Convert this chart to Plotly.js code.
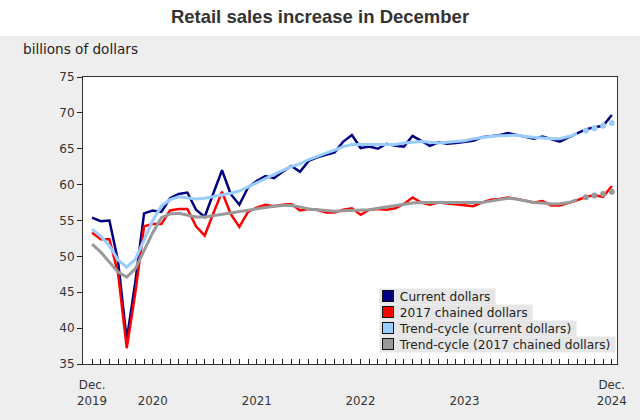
<!DOCTYPE html>
<html>
<head>
<meta charset="utf-8">
<script src="https://cdn.plot.ly/plotly-3.0.1.min.js"></script>
<style>html,body{margin:0;padding:0;background:#eeeeee;}#chart{width:640px;height:420px;}</style>
</head>
<body>
<div id="chart"></div>
<script>
// Months, Dec 2019 .. Dec 2024
const months = ['2019-12',
 '2020-01','2020-02','2020-03','2020-04','2020-05','2020-06','2020-07','2020-08','2020-09','2020-10','2020-11','2020-12',
 '2021-01','2021-02','2021-03','2021-04','2021-05','2021-06','2021-07','2021-08','2021-09','2021-10','2021-11','2021-12',
 '2022-01','2022-02','2022-03','2022-04','2022-05','2022-06','2022-07','2022-08','2022-09','2022-10','2022-11','2022-12',
 '2023-01','2023-02','2023-03','2023-04','2023-05','2023-06','2023-07','2023-08','2023-09','2023-10','2023-11','2023-12',
 '2024-01','2024-02','2024-03','2024-04','2024-05','2024-06','2024-07','2024-08','2024-09','2024-10','2024-11','2024-12'];

const currentDollars = [55.4,
 54.9,55.0,49.3,38.4,46.5,56.0,56.4,56.2,58.1,58.7,58.9,56.5,
 55.5,58.8,62.0,58.7,57.2,59.6,60.5,61.2,60.9,61.8,62.6,61.8,
 63.3,63.8,64.2,64.5,66.0,66.9,65.1,65.3,65.0,65.7,65.4,65.3,
 66.8,66.1,65.4,65.9,65.7,65.8,65.9,66.1,66.6,66.7,66.9,67.2,
 66.9,66.7,66.4,66.7,66.3,66.0,66.6,67.1,67.7,68.0,68.2,69.7];

const chainedDollars = [53.3,
 52.4,52.4,47.6,37.2,45.0,54.2,54.5,54.5,56.4,56.6,56.6,54.2,
 52.9,56.0,59.0,55.9,54.1,56.2,56.8,57.2,57.0,57.2,57.3,56.4,
 56.6,56.5,56.1,56.1,56.5,56.7,55.8,56.5,56.6,56.5,56.7,57.3,
 58.2,57.5,57.2,57.5,57.4,57.3,57.1,57.0,57.5,57.9,58.0,58.2,
 58.0,57.8,57.5,57.7,57.1,57.1,57.4,57.8,58.3,58.5,58.3,59.8];

const trendCurrent = [53.8,
 52.8,51.5,49.5,48.5,49.6,52.3,55.0,57.0,57.9,58.3,58.2,58.0,
 58.1,58.3,58.5,58.8,59.1,59.7,60.3,60.9,61.5,62.0,62.5,62.9,
 63.5,64.0,64.4,64.8,65.3,65.6,65.6,65.6,65.5,65.6,65.6,65.8,
 65.9,66.0,65.9,65.8,65.9,66.0,66.1,66.4,66.6,66.7,66.8,66.9,
 66.9,66.7,66.55,66.5,66.4,66.4,66.7,67.1,67.5,67.85,68.2,68.6];

const trendChained = [51.7,
 50.6,49.2,47.8,47.1,48.3,50.8,53.3,55.4,55.9,56.0,55.7,55.5,
 55.5,55.7,55.9,56.0,56.2,56.4,56.7,56.9,57.0,57.1,57.1,56.9,
 56.6,56.5,56.4,56.3,56.35,56.4,56.4,56.5,56.7,56.9,57.1,57.3,
 57.45,57.5,57.5,57.5,57.45,57.4,57.4,57.45,57.5,57.7,57.9,58.1,
 58.0,57.8,57.5,57.45,57.3,57.35,57.5,57.9,58.25,58.5,58.7,59.0];

const seriesNames = ['Current dollars','2017 chained dollars','Trend-cycle (current dollars)','Trend-cycle (2017 chained dollars)'];
const seriesColors = ['#000080','#ff0000','#99ccff','#999999'];

const majorTickMonths = ['2020-01','2021-01','2022-01','2023-01','2024-01'];
const labelMonths = ['2019-12','2020-07','2021-07','2022-07','2023-07','2024-12'];
const labelTexts = ['Dec.<br>2019',' <br>2020',' <br>2021',' <br>2022',' <br>2023','Dec.<br>2024'];
const yTicks = [35,40,45,50,55,60,65,70,75];

const xIdx = months.map((m,i)=>i);
const lastSolid = 56; // trend-cycle shown as points after this

const traces = [
  {x:xIdx, y:currentDollars, type:'scatter', mode:'lines', line:{color:seriesColors[0], width:2.5}, showlegend:false, hoverinfo:'skip'},
  {x:xIdx, y:chainedDollars, type:'scatter', mode:'lines', line:{color:seriesColors[1], width:2.5}, showlegend:false, hoverinfo:'skip'},
  {x:xIdx.slice(0,lastSolid+1), y:trendCurrent.slice(0,lastSolid+1), type:'scatter', mode:'lines', line:{color:seriesColors[2], width:3}, showlegend:false, hoverinfo:'skip'},
  {x:xIdx.slice(lastSolid+1), y:trendCurrent.slice(lastSolid+1), type:'scatter', mode:'markers', marker:{color:seriesColors[2], size:6}, showlegend:false, hoverinfo:'skip'},
  {x:xIdx.slice(0,lastSolid+1), y:trendChained.slice(0,lastSolid+1), type:'scatter', mode:'lines', line:{color:seriesColors[3], width:3}, showlegend:false, hoverinfo:'skip'},
  {x:xIdx.slice(lastSolid+1), y:trendChained.slice(lastSolid+1), type:'scatter', mode:'markers', marker:{color:seriesColors[3], size:6}, showlegend:false, hoverinfo:'skip'},
  // invisible trace to carry the label axis
  {x:[0], y:[null], xaxis:'x2', type:'scatter', mode:'lines', showlegend:false, hoverinfo:'skip'}
];

const L = 83, R = 617, T = 77, B = 364;
const W = R - L, H = B - T;
const px = v => (v - L) / W;
const py = v => (B - v) / H;

const annotations = [];
// legend rows
const rowY = [296, 312, 328, 344];
seriesNames.forEach((name, k) => {
  annotations.push({
    xref:'paper', yref:'paper', x:px(379), y:py(rowY[k]), xanchor:'left', yanchor:'middle',
    text:'&nbsp;&nbsp;&nbsp;&nbsp;&nbsp;' + name + '&nbsp;', showarrow:false,
    font:{family:'DejaVu Sans', size:12.2, color:'#222'},
    bgcolor:'#e6e6e6', borderpad:0.5
  });
  annotations.push({
    xref:'paper', yref:'paper', x:px(387.5), y:py(rowY[k]), xanchor:'center', yanchor:'middle',
    text:'&nbsp;', showarrow:false, font:{size:1},
    width:10, height:10, bgcolor:seriesColors[k], bordercolor:'#111', borderwidth:1, borderpad:0
  });
});
// unit label
annotations.push({xref:'paper', yref:'paper', x:px(21), y:py(49), xanchor:'left', yanchor:'middle',
  text:'billions of dollars', showarrow:false, font:{family:'DejaVu Sans', size:13.6, color:'#222'}});

const layout = {
  width:640, height:420,
  margin:{l:L, r:640-R, t:T, b:420-B},
  paper_bgcolor:'#eeeeee', plot_bgcolor:'#ffffff',
  title:{text:'<b>Retail sales increase in December</b>', x:0.5, xanchor:'center', y:1-17/420, yanchor:'middle',
    font:{family:'Liberation Sans, Arial', size:18.5, color:'#333'}},
  xaxis:{
    range:[-1.05, 60.6], showgrid:false, zeroline:false,
    showline:true, mirror:true, linecolor:'#333', linewidth:1,
    tickmode:'array', tickvals:majorTickMonths.map(m=>months.indexOf(m)), ticktext:majorTickMonths.map(()=>''),
    ticks:'inside', ticklen:16, tickwidth:1, tickcolor:'#222',
    minor:{ticks:'inside', dtick:1, tick0:0, ticklen:5, tickwidth:1, tickcolor:'#222', showgrid:false},
    showticklabels:false, fixedrange:true
  },
  xaxis2:{
    overlaying:'x', side:'bottom', range:[-1.05, 60.6], showgrid:false, zeroline:false, showline:false,
    tickmode:'array', tickvals:labelMonths.map(m=>months.indexOf(m)), ticktext:labelTexts,
    ticks:'outside', ticklen:10, tickcolor:'rgba(0,0,0,0)',
    tickfont:{family:'DejaVu Sans', size:11.8, color:'#333'}, fixedrange:true
  },
  yaxis:{
    range:[35,75], showgrid:false, zeroline:false,
    showline:true, mirror:true, linecolor:'#333', linewidth:1,
    tickmode:'array', tickvals:yTicks, ticks:'outside', ticklen:5, tickcolor:'#222',
    tickfont:{family:'DejaVu Sans', size:12, color:'#333'}, fixedrange:true
  },
  shapes:[
    {type:'rect', xref:'paper', yref:'paper', x0:px(0), x1:px(640), y0:py(36), y1:py(0), fillcolor:'#ffffff', line:{width:0}, layer:'below'}
  ],
  annotations:annotations,
  showlegend:false
};

Plotly.newPlot('chart', traces, layout, {staticPlot:true, displayModeBar:false});
</script>
</body>
</html>
